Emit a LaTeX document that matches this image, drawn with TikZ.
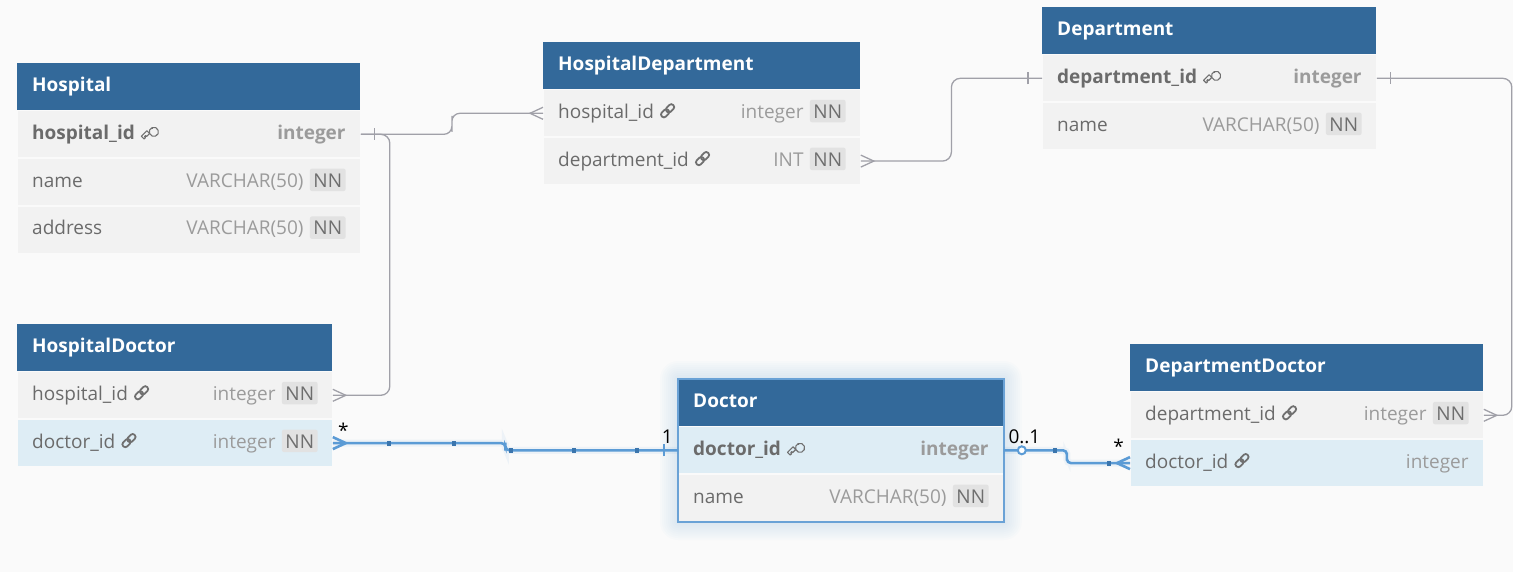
\documentclass[tikz,border=0pt]{standalone}
\usepackage{fontspec}
\setmainfont{Open Sans}
\usetikzlibrary{calc}
\definecolor{bgc}{HTML}{FAFAFA}
\definecolor{hdrc}{HTML}{33699A}
\definecolor{rowc}{HTML}{F2F2F2}
\definecolor{hlrow}{HTML}{DEEDF5}
\definecolor{rowline}{HTML}{FAFAFA}
\definecolor{fieldc}{HTML}{6B6B6B}
\definecolor{typec}{HTML}{9B9B9B}
\definecolor{nnfill}{HTML}{E2E2E2}
\definecolor{nnc}{HTML}{6E6E6E}
\definecolor{iconc}{HTML}{707070}
\definecolor{relg}{HTML}{A0A0A8}
\definecolor{hlb}{HTML}{5B9BD5}
\definecolor{hlsq}{HTML}{3B75AD}
\definecolor{hlborder}{HTML}{6AA2D6}
\pgfdeclarelayer{bg}
\pgfsetlayers{bg,main}
\newcommand{\ertxtfont}{\fontsize{19}{23}\selectfont}
\tikzset{
 hdr/.style={rectangle, fill=hdrc, minimum height=47pt, inner sep=0pt, anchor=north west},
 hdrtxt/.style={inner sep=0pt, text=white, font=\ertxtfont\bfseries, anchor=base west},
 rowbox/.style={rectangle, draw=rowline, line width=0.8pt, minimum height=47pt, inner sep=0pt, anchor=north west},
 fieldtxt/.style={inner sep=0pt, text=fieldc, font=\ertxtfont, anchor=base west},
 typetxt/.style={inner sep=0pt, text=typec, font=\ertxtfont, anchor=base east},
 nnbox/.style={fill=nnfill, text=nnc, font=\ertxtfont, rounded corners=2pt, inner xsep=3.5pt, inner ysep=4pt, text height=14.5pt, text depth=0pt, anchor=base east},
 lbl/.style={inner sep=0pt, text=black, font=\ertxtfont},
 rel/.style={draw=relg, line width=1.3pt},
 hl/.style={draw=hlb, line width=2.6pt},
 hlglow/.style={draw=hlb, line width=7pt, opacity=0.08},
 pics/crow/.style={code={\draw[#1] (0,-6) -- (13,0) -- (0,6);}},
 pics/onetick/.style={code={\draw[#1] (14,-6) -- (14,6);}},
 pics/sq/.style={code={\fill[hlsq] (-2.2,-2.6) rectangle (2.2,2.6);}},
 pics/zerocirc/.style={code={\draw[hlb, fill=white, line width=2pt] (18,0) circle (4pt);}},
 pics/noicon/.style={code={}},
 pics/pkkey/.style={code={
   \begin{scope}[shift={(7.5,-7.5)}, rotate=45, yscale=-1]
   \draw[iconc, line width=1.1pt, line join=round]
     (-0.49,1.9) -- (-8.3,1.9) -- (-8.3,-1.9) -- (-6.3,-1.9) -- (-6.3,-0.6) -- (-4.8,-0.6) -- (-4.8,-1.9) -- (-0.49,-1.9)
     arc[start angle=-155.6, end angle=155.6, radius=4.6pt] -- cycle;
   \fill[iconc] (5.2,0) circle (1pt);
   \end{scope}
 }},
 pics/fklink/.style={code={
   \begin{scope}[shift={(7.5,-7.5)}, rotate=45]
   \draw[iconc, line width=1.8pt, rounded corners=2.5pt] (-8,-2.8) rectangle (1,2.8);
   \draw[iconc, line width=1.8pt, rounded corners=2.5pt] (-1,-2.8) rectangle (8,2.8);
   \end{scope}
 }},
}
\newcommand{\erhead}[4]{%
 \node[hdr, minimum width=#3] (#1) at #2 {};
 \node[hdrtxt] (#1-title) at ([xshift=15pt, yshift=-5pt]#1.west) {#4};
}
\newcommand{\errow}[7]{%
 \node[rowbox, fill=#4, minimum width=#3] (#1) at (#2.south west) {};
 \node[fieldtxt] (#1-n) at ([xshift=15pt, yshift=-5pt]#1.west) {#5};
 \pic at ([xshift=6pt]#1-n.base east) {#6};
 \node[typetxt] (#1-t) at ([xshift=-15pt, yshift=-5pt]#1.east) {#7};
}
\newcommand{\errownn}[7]{%
 \node[rowbox, fill=#4, minimum width=#3] (#1) at (#2.south west) {};
 \node[fieldtxt] (#1-n) at ([xshift=15pt, yshift=-5pt]#1.west) {#5};
 \pic at ([xshift=6pt]#1-n.base east) {#6};
 \node[nnbox] (#1-nn) at ([xshift=-15pt, yshift=-5pt]#1.east) {NN};
 \node[typetxt] (#1-t) at ([xshift=-6pt]#1-nn.base west) {#7};
}
\begin{document}
\begin{tikzpicture}[x=1pt, y=-1pt]
\useasboundingbox (0,0) rectangle (1513,572);
\begin{pgfonlayer}{bg}\fill[bgc] (0,0) rectangle (1513,572);\end{pgfonlayer}

% Hospital
\erhead{hosp}{(17,63)}{343pt}{Hospital}
\errow{hosp-hid}{hosp}{343pt}{rowc}{\textbf{hospital\_id}}{pkkey}{\textbf{integer}}
\errownn{hosp-nm}{hosp-hid}{343pt}{rowc}{name}{noicon}{VARCHAR(50)}
\errownn{hosp-ad}{hosp-nm}{343pt}{rowc}{address}{noicon}{VARCHAR(50)}

% HospitalDepartment
\erhead{hdep}{(543,42)}{317pt}{HospitalDepartment}
\errownn{hdep-hid}{hdep}{317pt}{rowc}{hospital\_id}{fklink}{integer}
\errownn{hdep-did}{hdep-hid}{317pt}{rowc}{department\_id}{fklink}{INT}

% Department
\erhead{dep}{(1042,7)}{334pt}{Department}
\errow{dep-did}{dep}{334pt}{rowc}{\textbf{department\_id}}{pkkey}{\textbf{integer}}
\errownn{dep-nm}{dep-did}{334pt}{rowc}{name}{noicon}{VARCHAR(50)}

% HospitalDoctor
\erhead{hdoc}{(17,324)}{315pt}{HospitalDoctor}
\errownn{hdoc-hid}{hdoc}{315pt}{rowc}{hospital\_id}{fklink}{integer}
\errownn{hdoc-did}{hdoc-hid}{315pt}{hlrow}{doctor\_id}{fklink}{integer}

% Doctor
\erhead{doc}{(678,379)}{325pt}{Doctor}
\errow{doc-did}{doc}{325pt}{hlrow}{\textbf{doctor\_id}}{pkkey}{\textbf{integer}}
\errownn{doc-nm}{doc-did}{325pt}{rowc}{name}{noicon}{VARCHAR(50)}

% DepartmentDoctor
\erhead{ddoc}{(1130,344)}{353pt}{DepartmentDoctor}
\errownn{ddoc-dep}{ddoc}{353pt}{rowc}{department\_id}{fklink}{integer}
\errow{ddoc-did}{ddoc-dep}{353pt}{hlrow}{doctor\_id}{fklink}{integer}

% glow round Doctor
\begin{pgfonlayer}{bg}
\foreach \g in {2,4,...,18} {\fill[hlb, opacity=0.02, rounded corners=\g pt] ([shift={(-\g pt,\g pt)}]doc.north west) rectangle ([shift={(\g pt,-\g pt)}]doc-nm.south east);}
\end{pgfonlayer}
\draw[hlborder, line width=2pt] (doc.north west) rectangle (doc-nm.south east);

% grey relations
\draw[rel, rounded corners=8pt] (hosp-hid.east) -| ($(hosp-hid.east)!0.5!(hdep-hid.west)$) |- (hdep-hid.west);
\draw[rel, rounded corners=9pt] (hosp-hid.east) -- ++(29,0) |- (hdoc-hid.east);
\draw[rel, rounded corners=9pt] (dep-did.west) -| ($(dep-did.west)!0.5!(hdep-did.east)$) |- (hdep-did.east);
\draw[rel, rounded corners=9pt] (dep-did.east) -- ++(135,0) |- (ddoc-dep.east);
\pic at (hosp-hid.east) {onetick=rel};
\pic[rotate=180] at (dep-did.west) {onetick=rel};
\pic at (dep-did.east) {onetick=rel};
\pic[rotate=180] at (hdep-hid.west) {crow=rel};
\pic at (hdoc-hid.east) {crow=rel};
\pic at (hdep-did.east) {crow=rel};
\pic at (ddoc-dep.east) {crow=rel};

% highlighted relations
\draw[hlglow, rounded corners=4pt] (doc-did.west) -| ($(doc-did.west)!0.5!(hdoc-did.east)$) |- (hdoc-did.east);
\draw[hl, rounded corners=4pt] (doc-did.west) -| ($(doc-did.west)!0.5!(hdoc-did.east)$) |- (hdoc-did.east);
\draw[hlglow, rounded corners=4pt] (doc-did.east) -| ($(doc-did.east)!0.5!(ddoc-did.west)$) |- (ddoc-did.west);
\draw[hl, rounded corners=4pt] (doc-did.east) -| ($(doc-did.east)!0.5!(ddoc-did.west)$) |- (ddoc-did.west);
\pic[rotate=180] at (doc-did.west) {onetick=hl};
\pic at (hdoc-did.east) {crow=hl};
\pic[rotate=180] at (ddoc-did.west) {crow=hl};
\pic at (doc-did.east) {zerocirc};
\pic at ([xshift=56pt]hdoc-did.east) {sq};
\pic at ([xshift=121pt]hdoc-did.east) {sq};
\pic at ([xshift=-167pt]doc-did.west) {sq};
\pic at ([xshift=-104pt]doc-did.west) {sq};
\pic at ([xshift=-41pt]doc-did.west) {sq};
\pic at ([xshift=51pt]doc-did.east) {sq};
\pic at ([xshift=-21pt]ddoc-did.west) {sq};

% cardinality labels
\node[lbl, anchor=base west] (lbl-a) at ([xshift=5pt, yshift=5.5pt]hdoc-did.east) {*};
\node[lbl, anchor=base east] (lbl-b) at ([xshift=-5pt, yshift=6.5pt]doc-did.west) {1};
\node[lbl, anchor=base west] (lbl-c) at ([xshift=4.5pt, yshift=6.5pt]doc-did.east) {0..1};
\node[lbl, anchor=base east] (lbl-d) at ([xshift=-6pt, yshift=9.5pt]ddoc-did.west) {*};
\end{tikzpicture}
\end{document}
